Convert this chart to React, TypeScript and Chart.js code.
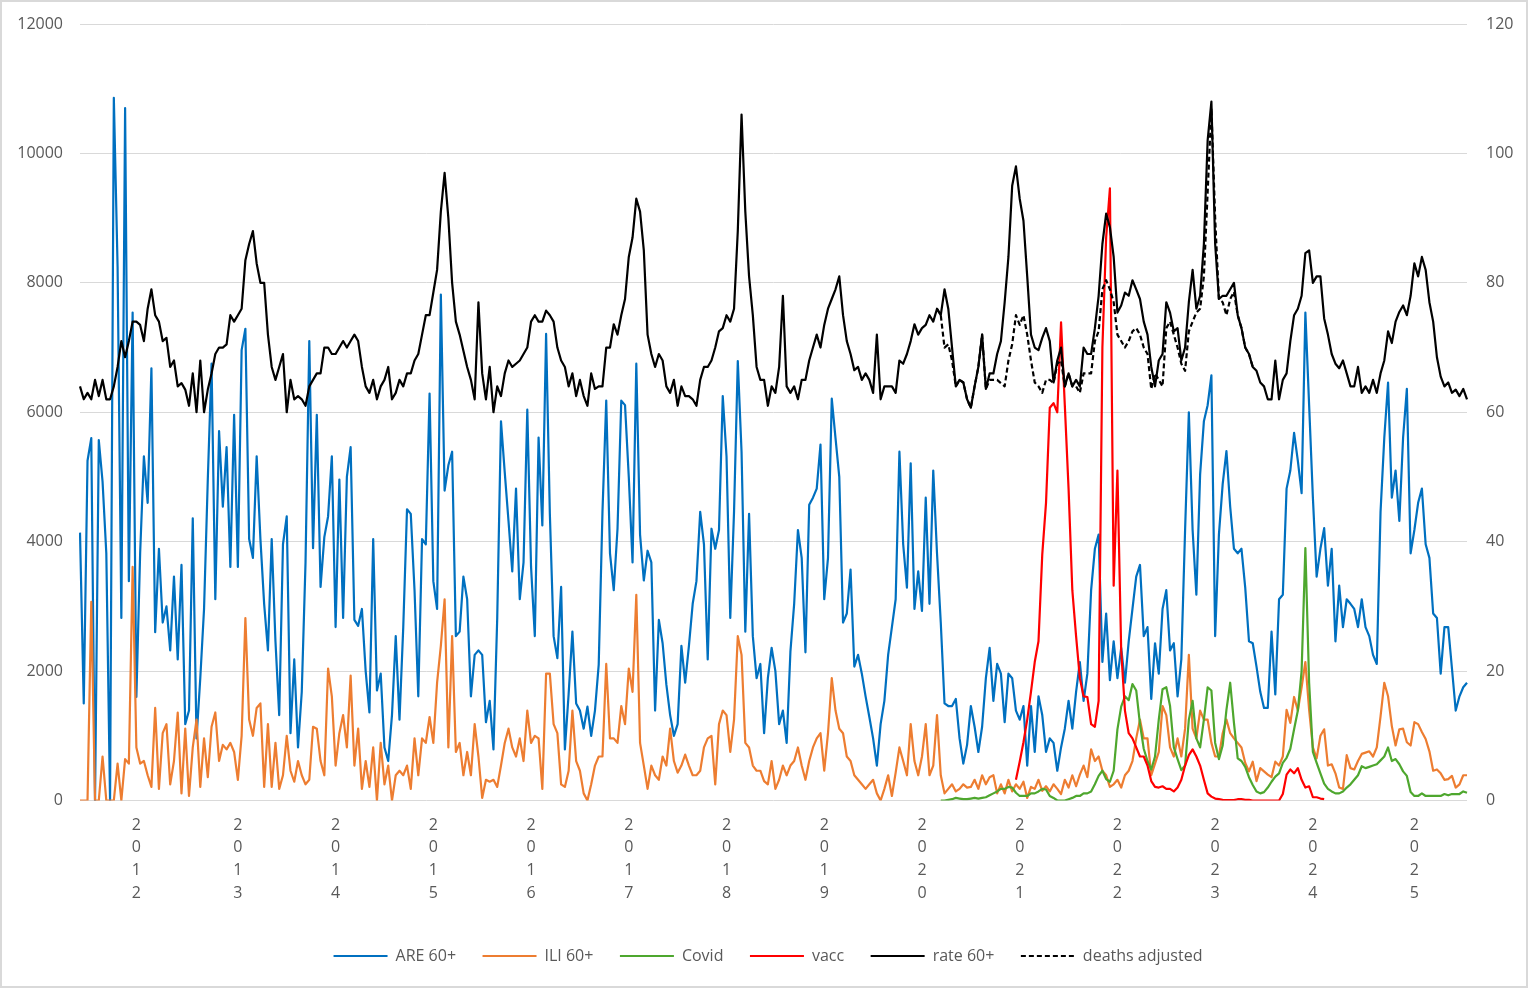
import { useRef, useEffect } from 'react';
import { Chart, registerables } from 'chart.js';

Chart.register(...registerables);

// week categories: one point every two weeks, from late May 2011 to summer 2025
const START_DATE = Date.UTC(2011, 4, 23);
const STEP_DAYS = 14;
const POINTS = 370;
const weeks: string[] = [];
for (let i = 0; i < POINTS; i++) {
  weeks.push(new Date(START_DATE + i * STEP_DAYS * 86400000).toISOString().slice(0, 10));
}

// ARE 60+ (left axis)
const are60 = [
  4140, 1500, 5250, 5600, 0, 5570, 4930, 3820, 0, 10860,
  8250, 2820, 10700, 3390, 7540, 1600, 3820, 5320, 4600, 6680,
  2600, 3890, 2750, 3000, 2320, 3460, 2180, 3640, 1180, 1390,
  4360, 960, 1890, 2960, 4960, 6750, 3110, 5710, 4540, 5460,
  3610, 5960, 3610, 6960, 7290, 4040, 3750, 5320, 4040, 3030,
  2320, 4040, 2460, 1320, 3960, 4390, 1040, 2180, 820, 1680,
  3680, 7100, 3900, 5960, 3300, 4070, 4390, 5320, 2680, 4960,
  2820, 5000, 5460, 2790, 2700, 2960, 2000, 1360, 4040, 1700,
  1960, 820, 610, 1320, 2540, 1250, 2680, 4500, 4430, 3250,
  1610, 4040, 3960, 6290, 3390, 2960, 7820, 4790, 5180, 5390,
  2540, 2610, 3460, 3110, 1610, 2250, 2320, 2250, 1210, 1540,
  790, 2820, 5860, 5070, 4320, 3540, 4820, 3110, 3680, 6040,
  3610, 2540, 5610, 4250, 7210, 4430, 2540, 2200, 3300, 790,
  1650, 2610, 1500, 1390, 1110, 1450, 1000, 1390, 2100, 4460,
  6180, 3820, 3250, 4200, 6180, 6110, 5000, 3680, 6750, 4110,
  3400, 3860, 3680, 1390, 2790, 2430, 1790, 1320, 1000, 1180,
  2390, 1820, 2390, 3040, 3390, 4460, 3960, 2180, 4200, 3890,
  4180, 6250, 5320, 2820, 4460, 6790, 5390, 2610, 4430, 2540,
  1890, 2110, 1040, 1890, 2360, 2000, 1180, 1390, 890, 2300,
  3040, 4180, 3750, 2290, 4570, 4680, 4820, 5500, 3110, 3750,
  6210, 5600, 5000, 2750, 2890, 3570, 2070, 2250, 1960, 1610,
  1290, 960, 540, 1180, 1540, 2250, 2680, 3110, 5390, 3960,
  3290, 5210, 2960, 3540, 2930, 4680, 3040, 5100, 3820, 2750,
  1500, 1460, 1460, 1570, 960, 570, 860, 1460, 1140, 750,
  1140, 1890, 2360, 1540, 2110, 1960, 1210, 1960, 1890, 1390,
  1250, 1460, 540, 1460, 750, 1610, 1320, 750, 960, 890,
  460, 820, 1110, 1540, 1110, 1680, 2140, 1540, 1960, 3250,
  3890, 4110, 2140, 2890, 1860, 2460, 1890, 2360, 1820, 2460,
  2960, 3460, 3640, 2540, 2680, 1570, 2430, 1960, 2960, 3250,
  2320, 2430, 1610, 2180, 4180, 6000, 4180, 3180, 5040, 5860,
  6110, 6570, 2540, 4110, 4890, 5400, 4540, 3890, 3820, 3890,
  3290, 2460, 2430, 2070, 1680, 1430, 1430, 2610, 1640, 3110,
  3180, 4820, 5100, 5680, 5250, 4750, 7540, 6110, 4680, 3460,
  3890, 4210, 3320, 3890, 2460, 3320, 2680, 3110, 3040, 2960,
  2680, 3110, 2680, 2540, 2250, 2110, 4460, 5610, 6460, 4680,
  5100, 4320, 5610, 6360, 3820, 4180, 4600, 4820, 3960, 3750,
  2890, 2820, 1960, 2680, 2680, 2040, 1390, 1610, 1750, 1820,
];

// ILI 60+ (left axis)
const ili60 = [
  0, 0, 0, 3070, 0, 0, 680, 0, 0, 0,
  570, 0, 640, 570, 3610, 820, 570, 610, 390, 210,
  1430, 180, 1040, 1180, 250, 610, 1360, 110, 1110, 70,
  820, 1250, 210, 960, 360, 1140, 1360, 610, 860, 790,
  890, 750, 320, 1000, 2820, 1250, 1000, 1430, 1500, 210,
  1180, 210, 890, 180, 390, 1000, 460, 290, 610, 390,
  250, 320, 1140, 1110, 610, 390, 2040, 1610, 540, 1040,
  1320, 820, 1930, 540, 1110, 180, 610, 210, 820, 0,
  890, 250, 540, 0, 390, 460, 390, 540, 180, 960,
  390, 960, 890, 1290, 890, 1820, 2390, 3110, 820, 2540,
  750, 890, 390, 750, 390, 1180, 680, 40, 320, 290,
  320, 210, 540, 890, 1110, 820, 680, 960, 610, 1390,
  890, 1000, 960, 180, 1960, 1960, 1180, 1040, 250, 210,
  460, 1390, 610, 460, 110, 0, 250, 540, 680, 680,
  2110, 960, 960, 890, 1460, 1180, 2040, 1680, 3180, 890,
  540, 180, 540, 390, 320, 680, 540, 1110, 610, 430,
  540, 710, 540, 390, 390, 460, 820, 960, 1000, 250,
  1180, 1390, 1320, 750, 1250, 2540, 2250, 890, 820, 540,
  460, 460, 300, 250, 610, 180, 320, 540, 390, 540,
  610, 820, 540, 320, 610, 820, 960, 1040, 460, 1040,
  1890, 1390, 1110, 1040, 680, 610, 390, 320, 250, 180,
  250, 320, 110, 0, 180, 390, 70, 430, 820, 610,
  390, 1180, 610, 390, 680, 1180, 390, 540, 1320, 390,
  110, 180, 250, 140, 180, 250, 200, 210, 320, 180,
  390, 250, 360, 390, 110, 250, 110, 320, 140, 250,
  180, 290, 40, 210, 180, 320, 150, 220, 140, 250,
  180, 100, 320, 200, 390, 220, 400, 540, 360, 790,
  610, 680, 460, 390, 210, 250, 320, 200, 390, 460,
  610, 960, 1250, 960, 960, 390, 570, 750, 1460, 1320,
  820, 680, 960, 680, 1110, 2250, 1110, 960, 1390, 1250,
  1250, 890, 680, 680, 1040, 1250, 1040, 960, 890, 820,
  580, 450, 600, 300, 500, 450, 400, 360, 600, 540,
  680, 1400, 1200, 1600, 1390, 1750, 2140, 1400, 820, 650,
  1000, 1100, 540, 560, 420, 200, 180, 700, 500, 480,
  610, 720, 740, 760, 680, 820, 1300, 1820, 1610, 1150,
  850, 1100, 1110, 900, 850, 1210, 1180, 1060, 950, 760,
  460, 480, 420, 320, 330, 380, 200, 250, 390, 390,
];

// Covid (left axis), starts in spring 2020
const COVID_FROM = 229;
const covid = [
  0, 0, 10, 20, 40, 30, 20, 20, 30, 40, 30, 40, 50, 80,
  110, 140, 180, 180, 210, 200, 120,
  70, 70, 70, 110, 110, 140, 180, 170, 70, 40,
  0, 0, 0, 20, 40, 70, 70, 110, 110, 140,
  250, 380, 460, 330, 290, 460, 1100, 1450, 1610, 1550,
  1800, 1700, 1180, 800, 610, 480, 680, 1250, 1720, 1750,
  1460, 820, 640, 470, 540, 1250, 1540, 960, 820, 1250,
  1750, 1700, 890, 640, 850, 1400, 1820, 1200, 650, 610,
  520, 360, 240, 140, 110, 130, 200, 290, 370, 420,
  580, 660, 800, 1100, 1390, 2000, 3900, 1820, 750, 580,
  420, 260, 180, 140, 110, 110, 140, 200, 250, 320,
  390, 530, 500, 520, 540, 560, 620, 680, 820, 610,
  640, 560, 450, 380, 130, 70, 70, 110, 70, 70,
  70, 70, 70, 100, 80, 100, 100, 100, 140, 120,
];

// vaccinations (left axis), 2021 to early 2024
const VACC_FROM = 249;
const vacc = [
  320, 600, 900, 1250, 1680, 2140, 2460, 3800, 4600, 6070, 6140,
  6000, 7390, 6110, 4820, 3250, 2540, 1890, 1610, 1600, 1180,
  1140, 1540, 7000, 8700, 9460, 3320, 5100, 2320, 1390, 1040,
  960, 820, 680, 680, 540, 300, 210, 200, 220, 180,
  180, 140, 200, 320, 540, 700, 790, 680, 540, 320,
  110, 60, 30, 20, 10, 5, 5, 5, 20, 20,
  10, 10, 0, 0, 0, 0, 0, 0, 0, 0,
  100, 400, 480, 420, 500, 320, 200, 220, 50, 50, 30, 20,
];

// mortality rate 60+ (right axis)
const rate60 = [
  64, 62, 63, 62, 65, 62.5, 65, 62, 62, 64,
  67, 71, 68.5, 71, 74, 74, 73.5, 71, 76, 79,
  75, 74, 71, 71.5, 67, 68, 64, 64.5, 63.5, 61,
  66, 60, 68, 60, 63.5, 66, 69, 70, 70, 70.5,
  75, 74, 75, 76, 83.5, 86, 88, 83, 80, 80,
  72, 67, 65, 67, 69, 60, 65, 62, 62.5, 62,
  61, 64, 65, 66, 66, 70, 70, 69, 69, 70,
  71, 70, 71, 72, 71, 67, 64, 63, 65, 62,
  64, 65, 67, 62, 63, 65, 64, 66, 66, 68,
  69, 72, 75, 75, 78.5, 82, 91, 97, 90, 80,
  74, 72, 69.5, 67, 65, 62, 77, 66, 62, 67,
  60, 64, 62.5, 66, 68, 67, 67.5, 68, 69, 70,
  74, 75, 74, 74, 75.7, 75, 74, 70, 68, 67,
  64, 66, 62.5, 65, 62.5, 61, 66, 63.6, 64, 64,
  70, 70, 73.6, 72, 75, 77.5, 84, 87, 93, 91,
  85, 72, 69, 67, 69, 68, 64, 63, 65, 61,
  64, 62.5, 62.5, 62, 61, 65, 67, 67, 68, 70,
  72.5, 73, 75, 74, 76, 88, 106, 91, 81, 75,
  67, 65, 65, 61, 64, 63, 67, 78, 64, 63,
  64, 62, 65, 65, 68, 70, 72, 70, 73.5, 76,
  77.5, 79, 81, 75, 71, 69, 66.5, 67, 65, 66,
  65, 63, 72, 62, 64, 64, 64, 63, 68, 67.5,
  69, 71, 73.6, 72, 73, 73.5, 75, 74, 76, 75,
  79, 76, 70, 64, 65, 64.6, 62, 60.7, 64, 67,
  72, 63.6, 66, 66, 69, 71, 77, 84, 95, 98,
  93, 89.6, 81, 72, 70, 69.6, 71.5, 73, 71, 64.6,
  68, 70, 64, 66, 64, 65, 64, 70, 69, 69,
  73, 78, 86, 90.7, 88.6, 84, 75.4, 76.5, 78.5, 78,
  80.4, 79, 77.5, 74, 72, 67, 64, 68, 69, 77,
  75.4, 72.5, 73, 68, 70, 77, 82, 76, 78, 86,
  102, 108, 86, 77.5, 78, 78, 79, 80, 75, 73,
  70, 69, 67, 66.4, 64.6, 64, 62, 62, 68, 62,
  65, 66, 71, 75, 76, 78, 84.6, 85, 80, 81,
  81, 74.5, 72, 69, 67.5, 66.8, 68, 66, 64, 64,
  67, 63, 64, 63, 65, 63, 66, 68, 72.5, 70.7,
  74, 75.5, 76.5, 75, 78, 83, 81, 84, 82, 77,
  74, 68.5, 65.5, 64, 64.6, 63, 63.5, 62.5, 63.6, 62,
];

// deaths adjusted (right axis), 2020 to 2024
const DEATHS_FROM = 228;
const deathsAdj = [
  76, 75,
  70, 70.5, 68, 64, 65, 64.6, 62, 60.7, 64, 67,
  72, 63.6, 65, 65, 65, 64.5, 64, 68, 70.5, 75,
  73.5, 75, 72, 68, 64.6, 64, 63, 65, 65, 64.5,
  67.5, 68, 64, 66, 64, 64, 63, 66, 66, 66,
  71, 72.5, 79, 80.4, 79, 77, 72, 71, 70, 71,
  72.5, 73, 72, 70, 69, 63.6, 66, 65, 64, 73,
  74, 72, 70, 67.5, 66.4, 72.5, 74, 75.4, 76, 81,
  94, 107, 90, 77.5, 77, 75, 77.5, 78.6, 75, 73,
  70, 69, 67,
];

const padFront = (from: number, values: number[]) =>
  (new Array(from).fill(null) as (number | null)[]).concat(values);

const TEXT = '#595959';
const FONT = '"Open Sans", "Liberation Sans", sans-serif';
const DASH = [5, 3];

function MortalityChart() {
  const canvasRef = useRef<HTMLCanvasElement>(null);

  useEffect(() => {
    const canvas = canvasRef.current;
    if (!canvas) return;
    Chart.defaults.font.family = FONT;
    Chart.defaults.font.size = 16;
    Chart.defaults.color = TEXT;

    const line = (label: string, data: (number | null)[], color: string, axis: string, order: number, dash: number[] = []) => ({
      label,
      data,
      borderColor: color,
      backgroundColor: color,
      borderWidth: 2.2,
      borderDash: dash,
      pointRadius: 0,
      tension: 0,
      borderJoinStyle: 'round' as const,
      yAxisID: axis,
      order,
      spanGaps: false,
    });

    const noEdgePadding = (scale: any, width: number) => {
      scale.width = width;
      scale.paddingTop = 0;
      scale.paddingBottom = 0;
    };

    const chart = new Chart(canvas, {
      type: 'line',
      data: {
        labels: weeks,
        datasets: [
          line('ARE 60+', are60, '#0070C0', 'y', 6),
          line('ILI 60+', ili60, '#ED7D31', 'y', 5),
          line('Covid', padFront(COVID_FROM, covid), '#4EA72E', 'y', 4),
          line('vacc', padFront(VACC_FROM, vacc), '#FF0000', 'y', 3),
          line('rate 60+', rate60, '#000000', 'y1', 2),
          line('deaths adjusted', padFront(DEATHS_FROM, deathsAdj), '#000000', 'y1', 1, DASH),
        ],
      },
      options: {
        animation: false,
        responsive: true,
        maintainAspectRatio: false,
        layout: { padding: { top: 22, bottom: 12, left: 8, right: 0 } },
        plugins: {
          legend: {
            position: 'bottom',
            labels: {
              usePointStyle: true,
              pointStyle: 'line',
              pointStyleWidth: 54,
              padding: 26.5,
              color: TEXT,
              font: { size: 16, family: FONT },
              sort: (a, b) => (a.datasetIndex ?? 0) - (b.datasetIndex ?? 0),
              generateLabels: (c) =>
                Chart.defaults.plugins.legend.labels.generateLabels(c).map((item) => {
                  const ds: any = c.data.datasets[item.datasetIndex ?? 0];
                  return { ...item, lineDash: ds.borderDash, lineWidth: 2.2, strokeStyle: ds.borderColor };
                }),
            },
          },
          tooltip: { enabled: false },
        },
        scales: {
          x: {
            type: 'category',
            grid: { display: false, drawTicks: false },
            border: { display: false },
            ticks: {
              autoSkip: false,
              maxRotation: 0,
              minRotation: 0,
              padding: 13,
              color: TEXT,
              font: { size: 16, lineHeight: 1.43 },
              callback: (_value, index) => {
                const year = weeks[index].slice(0, 4);
                const next = weeks[index + 1];
                if (next && next.slice(0, 4) !== year) return next.slice(0, 4).split('');
                return '';
              },
            },
            afterFit: (scale) => { scale.height = 121; },
          },
          y: {
            position: 'left',
            min: 0,
            max: 12000,
            ticks: { stepSize: 2000, padding: 17, color: TEXT, callback: (v) => String(v) },
            grid: { color: '#d9d9d9', lineWidth: 1, drawTicks: false },
            border: { display: false },
            afterFit: (scale) => noEdgePadding(scale, 70),
          },
          y1: {
            position: 'right',
            min: 0,
            max: 120,
            ticks: { stepSize: 20, padding: 19, color: TEXT, callback: (v) => String(v) },
            grid: { display: false, drawTicks: false },
            border: { display: false },
            afterFit: (scale) => noEdgePadding(scale, 59),
          },
        },
      },
    });
    return () => {
      chart.destroy();
    };
  }, []);

  return <canvas ref={canvasRef} />;
}

export default function App() {
  return (
    <div
      style={{
        position: 'absolute',
        left: 0,
        top: 0,
        width: 1528,
        height: 988,
        boxSizing: 'border-box',
        border: '2px solid #d9d9d9',
        background: '#fff',
      }}
    >
      <div style={{ position: 'relative', width: 1524, height: 984 }}>
        <MortalityChart />
      </div>
    </div>
  );
}
